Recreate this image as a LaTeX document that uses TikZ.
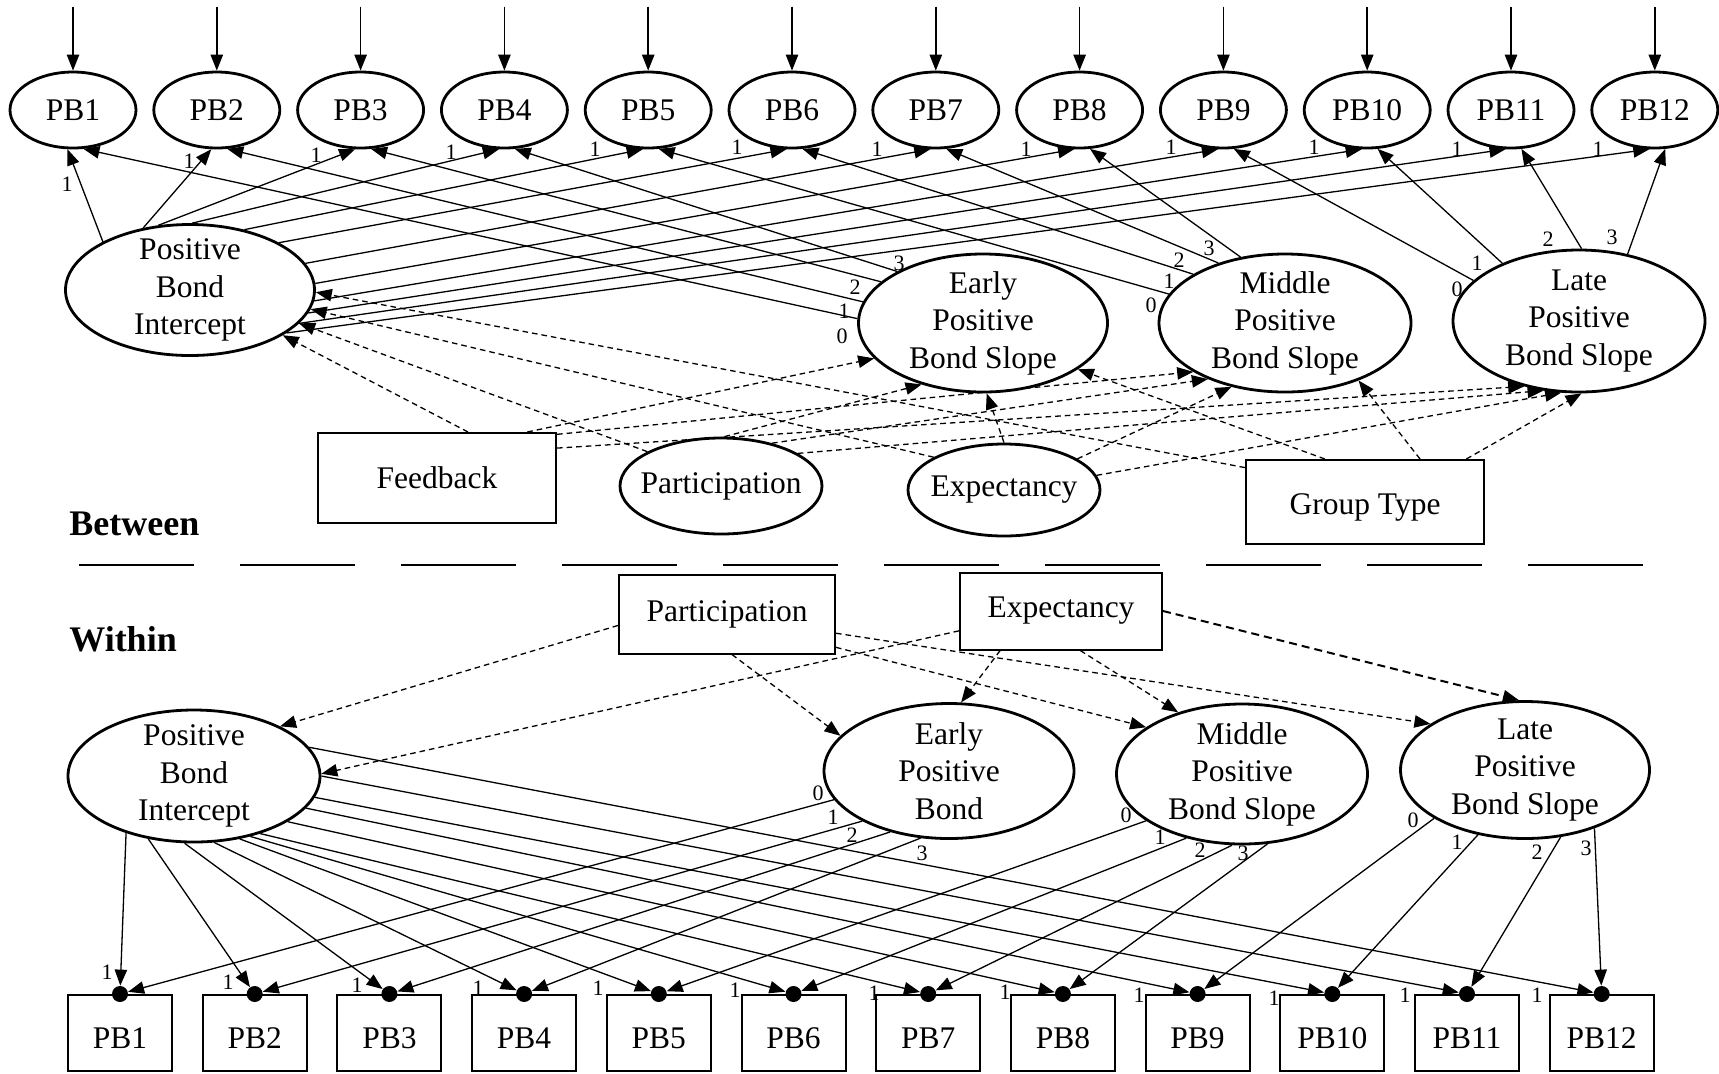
\documentclass[tikz,border=0pt]{standalone}
\usepackage{fontspec}
\setmainfont{Liberation Serif}
\usetikzlibrary{arrows.meta,shapes.geometric,positioning}

\tikzset{
  lat/.style={ellipse, draw, line width=1.4pt, inner sep=0pt},
  obs/.style={rectangle, draw, line width=1pt, inner sep=0pt},
  txt/.style={label={[align=center]center:#1}},
  low/.style={label={[yshift=-2.7pt]center:#1}},
  arr/.style={line width=0.65pt, -{Triangle[length=8pt,width=6.2pt]}},
  cov/.style={arr, dash pattern={on 2.8pt off 2pt}},
  num/.style={font=\fontsize{11}{13}\selectfont, inner sep=0pt},
  wdot/.style={circle, fill, inner sep=0pt, minimum size=8pt},
  lvl/.style={font=\fontsize{18}{21}\selectfont\bfseries, anchor=west, inner sep=0pt},
}

\begin{document}
\begin{tikzpicture}[x=0.5pt,y=0.5pt,yscale=-1,font=\fontsize{15.75}{18.75}\selectfont]
\useasboundingbox (0,0) rectangle (1719,1073);

%%% Between level

%Shape: Ellipse [PB1..PB12] with residual arrows
\foreach \i in {1,...,12}{
  \pgfmathsetmacro\xx{73+143.8*(\i-1)}
  \node[lat, minimum width=63pt, minimum height=38pt] (tp\i) at (\xx,110) {PB\i};
  \path (tp\i.north) ++(0,-64) coordinate (r\i);
  \draw[arr, line width=0.75pt] (r\i) -- (tp\i);
}

%Shape: Ellipse [growth factors]
\node[lat, minimum width=124.5pt, minimum height=65.5pt, txt={Positive\\Bond\\Intercept}] (ti) at (190,290) {};
\node[lat, minimum width=124.5pt, minimum height=69pt, txt={Early\\Positive\\Bond Slope}] (te) at (983,323) {};
\node[lat, minimum width=126pt, minimum height=69pt, txt={Middle\\Positive\\Bond Slope}] (tm) at (1285,323) {};
\node[lat, minimum width=126pt, minimum height=71pt, txt={Late\\Positive\\Bond Slope}] (tl) at (1579,321) {};

%Shape: covariates
\node[obs, minimum width=119pt, minimum height=45pt] (fb) at (437,478) {Feedback};
\node[lat, minimum width=101pt, minimum height=48pt, txt=Participation] (tpa) at (721,486) {};
\node[lat, minimum width=96pt, minimum height=46pt, txt=Expectancy] (tex) at (1004,490) {};
\node[obs, minimum width=119pt, minimum height=42pt, low={Group Type}] (gt) at (1365,502) {};

%Straight Lines [intercept loadings]
\foreach \i/\ang/\lx/\ly in {1/151/67/184, 2/127/189/161, 3/116/316/155, 4/88/451/152,
  5/48/595/149, 6/28/737/147, 7/13/877/149, 8/3/1026/149, 9/355/1171/147,
  10/349/1314/147, 11/343/1457/149, 12/336/1598/149}{
  \draw[arr] (ti.\ang) -- (tp\i.262);
  \node[num] (u\i) at (\lx,\ly) {1};
}

%Straight Lines [slope loadings]
\foreach \src/\ang/\tgt/\lx/\ly/\wt in {te/178/1/842/336/0, te/170/2/844/311/1,
  te/158/3/855/287/2, te/149/4/899/263/3, tm/166/5/1151/305/0, tm/152/6/1169/281/1,
  tm/138/7/1179/260/2, tm/124/8/1209/248/3, tl/159/9/1457/289/0, tl/143/10/1477/263/1,
  tl/88/11/1548/239/2, tl/54/12/1612/237/3}{
  \draw[arr] (\src.\ang) -- (tp\tgt.285);
  \node[num] (wt\src\tgt) at (\lx,\ly) {\wt};
}

%Dashed Lines [covariate paths]
\foreach \src/\ang/\tgt/\bng in {fb/56/ti/334, fb/27/te/198, fb/20/tm/208, fb/14/tl/230,
  tpa/155/ti/343, tpa/86/te/225, tpa/40/tm/216, tpa/23/tl/243,
  tex/155/ti/351, tex/90/te/273, tex/23/tm/230, tex/9/tl/256,
  gt/164/ti/359, gt/133/te/334, gt/38/tm/322, gt/23/tl/272}
  \draw[cov] (\src.\ang) -- (\tgt.\bng);

% Text Node
\node[lvl] (btw) at (69,524) {Between};
%Straight Lines [level divider]
\draw[line width=0.75pt, dash pattern={on 57.5pt off 23pt}] (79,565) -- (1643,565);
% Text Node
\node[lvl] (wth) at (69,639) {Within};

%%% Within level

%Shape: Rectangle [covariates]
\node[obs, minimum width=108pt, minimum height=39.5pt] (wpa) at (727,614) {Participation};
\node[obs, minimum width=101pt, minimum height=38.5pt] (wex) at (1061,611) {Expectancy};

%Shape: Ellipse [growth factors]
\node[lat, minimum width=126pt, minimum height=66pt, txt={Positive\\Bond\\Intercept}] (bi) at (194,776) {};
\node[lat, minimum width=125pt, minimum height=67.5pt, txt={Early\\Positive\\Bond}] (be) at (949,771) {};
\node[lat, minimum width=125.5pt, minimum height=70pt, txt={Middle\\Positive\\Bond Slope}] (bm) at (1242,774) {};
\node[lat, minimum width=124.5pt, minimum height=68.5pt, txt={Late\\Positive\\Bond Slope}] (bl) at (1525,770) {};

%Shape: Rectangle [PB1..PB12] with random-slope dots
\foreach \i in {1,...,12}{
  \pgfmathsetmacro\xx{120+134.7*(\i-1)}
  \node[obs, minimum width=52pt, minimum height=38pt, low={PB\i}] (bp\i) at (\xx,1033) {};
  \node[wdot] (d\i) at (bp\i.north) {};
}

%Dashed Lines [covariate paths]
\foreach \src/\ang/\tgt/\bng in {wpa/186/bi/30, wpa/277/be/162, wpa/343/bm/154, wpa/350/bl/154,
  wex/191/bi/1, wex/213/be/80, wex/296/bm/136}
  \draw[cov] (\src.\ang) -- (\tgt.\bng);
\draw[cov, line width=1pt, dash pattern={on 4pt off 2.5pt}] (wex.0) -- (bl.95);

%Straight Lines [intercept loadings]
\foreach \i/\ang/\lx/\ly in {1/220/107/972, 2/234/228/982, 3/262/357/985, 4/287/478/988,
  5/306/598/988, 6/313/735/990, 7/319/874/993, 8/334/1005/992, 9/344/1139/995,
  10/350/1274/998, 11/0/1405/995, 12/14/1537/995}{
  \draw[arr] (bi.\ang) -- (d\i);
  \node[num] (v\i) at (\lx,\ly) {1};
}

%Straight Lines [slope loadings]
\foreach \src/\ang/\tgt/\lx/\ly/\wt in {be/194/1/818/793/0, be/210/2/833/817/1,
  be/226/3/852/835/2, be/247/4/922/853/3, bm/206/5/1126/815/0, bm/229/6/1160/837/1,
  bm/262/7/1200/850/2, bm/290/8/1243/853/3, bl/208/9/1413/820/0, bl/234/10/1457/842/1,
  bl/298/11/1537/852/2, bl/320/12/1586/848/3}{
  \draw[arr] (\src.\ang) -- (d\tgt);
  \node[num] (wt\src\tgt) at (\lx,\ly) {\wt};
}

\end{tikzpicture}
\end{document}
